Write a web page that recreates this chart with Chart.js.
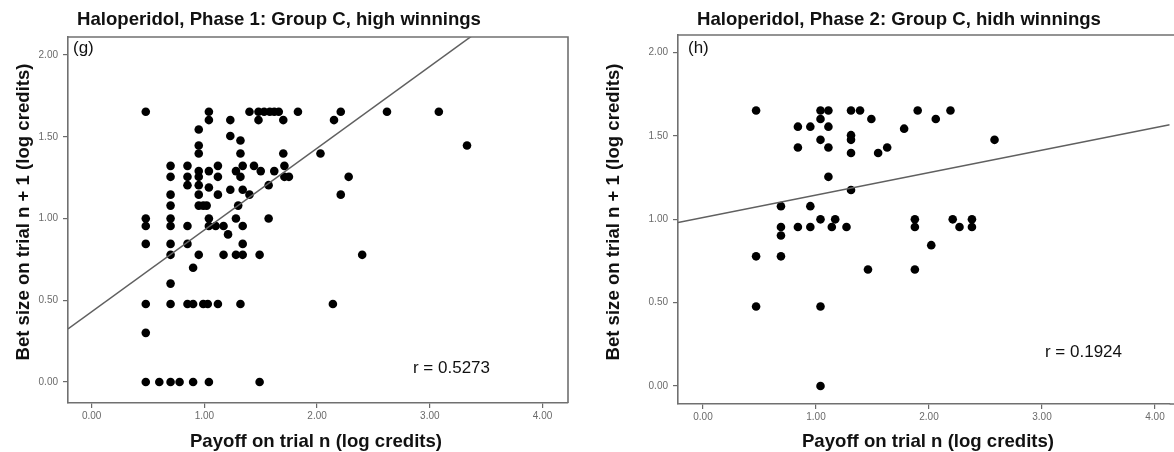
<!DOCTYPE html>
<html><head><meta charset="utf-8">
<script src="https://cdn.jsdelivr.net/npm/chart.js@4"></script>
<style>
html,body{margin:0;padding:0;background:#fff;overflow:hidden}
#wrap{position:relative;width:1174px;height:452px;background:#fff}
.box{position:absolute;top:0;height:452px}
canvas{display:block}
</style></head><body>
<div id="wrap">
<div class="box" style="left:0;width:580px"><canvas id="c1" width="580" height="452"></canvas></div>
<div class="box" style="left:580px;width:594px"><canvas id="c2" width="594" height="452"></canvas></div>
</div>
<script>
// ---- Panel (g): Phase 1 ----
const gX = [0.48,1.04,1.40,1.48,1.53,1.58,1.62,1.66,1.83,2.21,2.62,3.08,
  1.04,1.23,1.48,1.70,2.15,
  0.95,1.23,1.32,0.95,3.33,
  0.95,1.32,1.70,2.03,
  0.70,0.85,1.12,1.34,1.44,1.71,
  0.95,1.04,1.28,1.50,1.62,
  0.70,0.85,0.95,1.12,1.32,1.71,1.75,2.28,
  0.85,0.95,1.04,1.57,1.23,1.34,
  0.70,0.95,1.12,1.40,2.21,
  0.70,0.95,0.99,1.02,1.30,
  0.48,0.70,1.04,1.28,1.57,
  0.48,0.70,0.85,1.04,1.10,1.17,1.34,
  1.21,
  0.48,0.70,0.85,1.34,
  0.70,0.95,1.17,1.28,1.34,1.49,2.40,
  0.90,0.70,
  0.48,0.70,0.85,0.90,0.99,1.03,1.12,1.32,2.14,
  0.48,
  0.48,0.60,0.70,0.78,0.90,1.04,1.49];
const gY = [1.653,1.653,1.653,1.653,1.653,1.653,1.653,1.653,1.653,1.653,1.653,1.653,
  1.602,1.602,1.602,1.602,1.602,
  1.544,1.505,1.477,1.447,1.447,
  1.398,1.398,1.398,1.398,
  1.322,1.322,1.322,1.322,1.322,1.322,
  1.290,1.290,1.290,1.290,1.290,
  1.255,1.255,1.255,1.255,1.255,1.255,1.255,1.255,
  1.204,1.204,1.190,1.204,1.176,1.176,
  1.146,1.146,1.146,1.146,1.146,
  1.079,1.079,1.079,1.079,1.079,
  1.000,1.000,1.000,1.000,1.000,
  0.954,0.954,0.954,0.954,0.954,0.954,0.954,
  0.903,
  0.845,0.845,0.845,0.845,
  0.778,0.778,0.778,0.778,0.778,0.778,0.778,
  0.699,0.602,
  0.477,0.477,0.477,0.477,0.477,0.477,0.477,0.477,0.477,
  0.301,
  0,0,0,0,0,0,0];

// ---- Panel (h): Phase 2 ----
const hX = [0.47,1.04,1.11,1.31,1.39,1.90,2.19,
  1.04,1.49,2.06,
  0.84,0.95,1.11,1.78,
  1.31,1.31,1.04,2.58,
  0.84,1.11,1.63,
  1.31,1.55,
  1.11,1.31,
  0.69,0.95,
  1.04,1.17,1.875,2.21,2.38,
  0.69,0.84,0.95,1.14,1.27,1.875,2.27,2.38,
  0.69,2.02,
  0.47,0.69,
  1.46,1.875,
  0.47,1.04,1.04];
const hY = [1.653,1.653,1.653,1.653,1.653,1.653,1.653,
  1.602,1.602,1.602,
  1.556,1.556,1.556,1.544,
  1.505,1.477,1.477,1.477,
  1.431,1.431,1.431,
  1.398,1.398,
  1.255,1.176,
  1.079,1.079,
  1.000,1.000,1.000,1.000,1.000,
  0.954,0.954,0.954,0.954,0.954,0.954,0.954,0.954,
  0.903,0.845,
  0.778,0.778,
  0.699,0.699,
  0.477,0.477,0];

const xTickValues = [0, 1, 2, 3, 4];
const yTickValues = [0, 0.5, 1, 1.5, 2];
const gFit = [0.43, 0.50];   // intercept, slope
const hFit = [1.01, 0.135];
const gTitle = "Haloperidol, Phase 1: Group C, high winnings";
const hTitle = "Haloperidol, Phase 2: Group C, hidh winnings";
const xTitle = "Payoff on trial n (log credits)";
const yTitle = "Bet size on trial n + 1 (log credits)";
const gLetter = "(g)", hLetter = "(h)";
const gR = "r = 0.5273", hR = "r = 0.1924";

const FONT = '"Liberation Sans", Arial, Helvetica, sans-serif';

function makeChart(id, xs, ys, fit, o) {
  const pts = xs.map((x, i) => ({x: x, y: ys[i]}));
  const line = [o.xmin, o.xmax].map(x => ({x: x, y: fit[0] + fit[1] * x}));
  const deco = {
    id: 'deco',
    afterDraw(chart) {
      const ctx = chart.ctx, a = chart.chartArea;
      ctx.save();
      ctx.strokeStyle = '#707070';
      ctx.lineWidth = 1.6;
      ctx.beginPath();
      if (o.rightBorder) {
        ctx.moveTo(a.left, a.top); ctx.lineTo(a.right, a.top); ctx.lineTo(a.right, a.bottom);
      } else {
        ctx.moveTo(a.left, a.top); ctx.lineTo(chart.width, a.top);
        ctx.moveTo(a.right, a.bottom); ctx.lineTo(chart.width, a.bottom);
      }
      ctx.stroke();
      ctx.fillStyle = '#111';
      ctx.font = 'bold 18.6px ' + FONT;
      ctx.textBaseline = 'middle';
      ctx.textAlign = 'center';
      ctx.fillText(o.title, o.titleX, 20);
      ctx.fillText(xTitle, o.xTitleX, 442);
      ctx.save();
      ctx.translate(o.yTitleX, 212);
      ctx.rotate(-Math.PI / 2);
      ctx.fillText(yTitle, 0, 0);
      ctx.restore();
      ctx.font = '17px ' + FONT;
      ctx.textAlign = 'left';
      ctx.fillText(o.letter, o.letterX, 48);
      ctx.textAlign = 'right';
      ctx.fillText(o.r, o.rX, o.rY);
      ctx.restore();
    }
  };
  const axisCommon = (vals, fit) => ({
    type: 'linear',
    afterBuildTicks: s => { s.ticks = vals.map(v => ({value: v})); },
    ticks: {
      callback: v => Number(v).toFixed(2),
      color: '#6a6a6a',
      font: {family: FONT, size: 10},
      autoSkip: false,
      maxRotation: 0
    },
    grid: {drawOnChartArea: false, drawTicks: true, tickLength: 5, color: '#6a6a6a', lineWidth: 1.2},
    border: {display: true, color: '#707070', width: 1.6},
    afterFit: fit
  });
  const xs_ = axisCommon(xTickValues, s => { s.height = o.xH; });
  xs_.min = o.xmin; xs_.max = o.xmax; xs_.ticks.padding = 2;
  const ys_ = axisCommon(yTickValues, s => { s.width = o.yW; });
  ys_.min = o.ymin; ys_.max = o.ymax; ys_.ticks.padding = 5;
  return new Chart(document.getElementById(id), {
    type: 'scatter',
    data: {
      datasets: [
        {type: 'line', data: line, borderColor: '#606060', borderWidth: 1.5,
         pointRadius: 0, fill: false, tension: 0},
        {data: pts, backgroundColor: '#000', borderColor: '#000', borderWidth: 0,
         pointRadius: 4.3, pointHoverRadius: 4.3}
      ]
    },
    options: {
      responsive: false, animation: false, devicePixelRatio: 1,
      layout: {padding: o.pad},
      plugins: {legend: {display: false}, tooltip: {enabled: false}, title: {display: false}},
      scales: {x: xs_, y: ys_}
    },
    plugins: [deco]
  });
}

makeChart('c1', gX, gY, gFit, {
  xmin: -0.21, xmax: 4.226, ymin: -0.128, ymax: 2.11,
  pad: {left: 0, right: 12, top: 37, bottom: 0}, xH: 49, yW: 68,
  rightBorder: true, title: gTitle, titleX: 279, xTitleX: 316, yTitleX: 24,
  letter: gLetter, letterX: 73, r: gR, rX: 490, rY: 368
});
makeChart('c2', hX, hY, hFit, {
  xmin: -0.221, xmax: 4.13, ymin: -0.108, ymax: 2.106,
  pad: {left: 0, right: 0, top: 35, bottom: 0}, xH: 48, yW: 98,
  rightBorder: false, title: hTitle, titleX: 319, xTitleX: 348, yTitleX: 34,
  letter: hLetter, letterX: 108, r: hR, rX: 542, rY: 352
});
</script>
</body></html>
